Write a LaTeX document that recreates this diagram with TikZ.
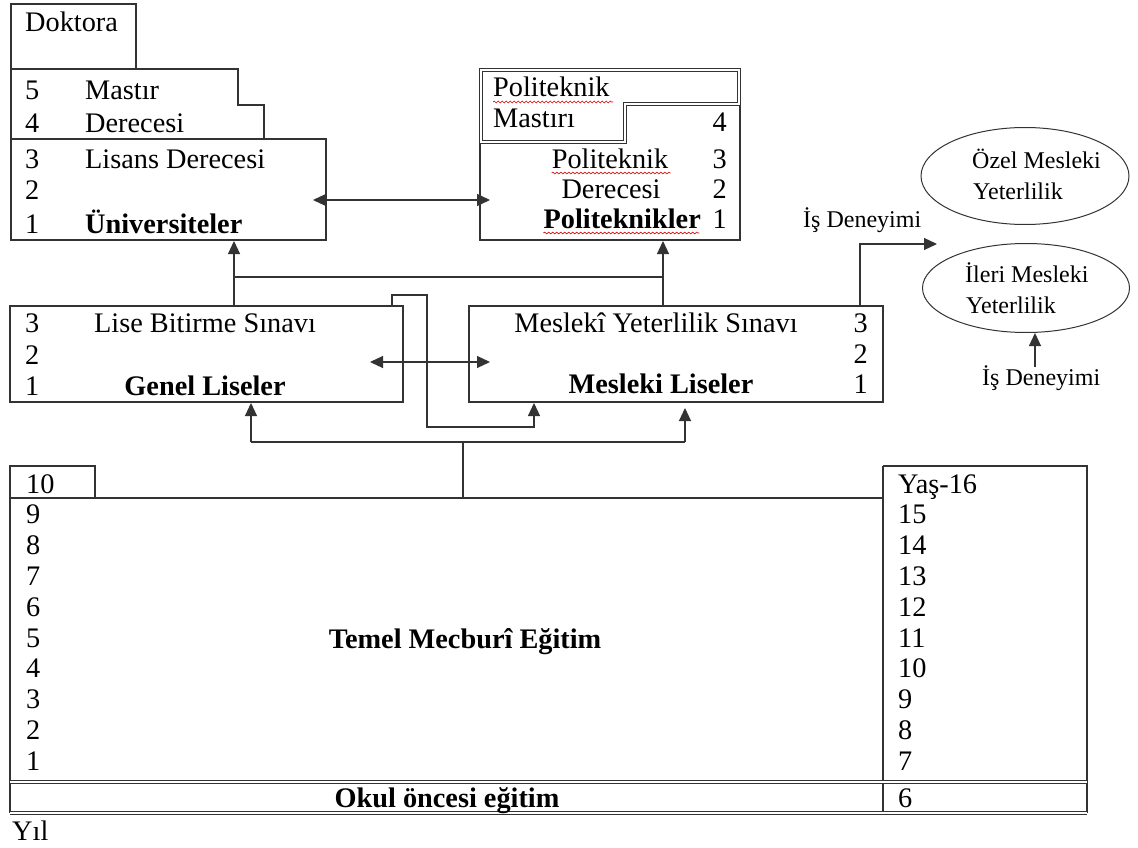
\documentclass[tikz,border=0pt]{standalone}
\usepackage{fontspec}
\setmainfont{Liberation Serif}
\usetikzlibrary{arrows.meta,shapes.geometric,decorations.pathmorphing}
\begin{document}
\begin{tikzpicture}[x=1pt,y=-1pt,
  line/.style={line width=1.1pt,draw=black!80},
  box/.style={line,rectangle,inner sep=0pt,outer sep=0pt},
  dline/.style={draw=black!80,double=white,line width=0.8pt,double distance=1.6pt},
  arr/.style={line,-{Triangle[length=13pt,width=12pt]}},
  dbl/.style={line,{Triangle[length=13pt,width=12pt]}-{Triangle[length=13pt,width=12pt]}},
  txt/.style={inner sep=0pt,font=\fontsize{28.3}{33}\selectfont},
  stxt/.style={inner sep=0pt,font=\fontsize{24}{28}\selectfont},
  squig/.style={draw=red!85!black,line width=0.6pt,decorate,decoration={snake,amplitude=0.9pt,segment length=4pt}},
  oval/.style={draw=black!80,line width=1pt,ellipse,inner sep=0pt}
]
\useasboundingbox (0,0) rectangle (1138,848);
\fill[white] (0,0) rectangle (1138,848);

% ---------- Universities ----------
\node[box,minimum width=125,minimum height=65,anchor=north west] (dok) at (11,4) {};
\draw[line] (11,69) -- (238,69) -- (238,105) -- (264,105) -- (264,139);
\draw[line] (11,69) -- (11,139);
\node[box,minimum width=315,minimum height=101,anchor=north west] (uni) at (11,139) {};
\node[txt,anchor=base west] (tdok) at (25,32) {Doktora};
\node[txt,anchor=base west] (n5) at (25,100) {5};
\node[txt,anchor=base west] (tmas) at (85,100) {Mastır};
\node[txt,anchor=base west] (n4) at (25,133) {4};
\node[txt,anchor=base west] (tder) at (85,133) {Derecesi};
\node[txt,anchor=base west] (n3) at (25,168) {3};
\node[txt,anchor=base west] (tlis) at (85,168) {Lisans Derecesi};
\node[txt,anchor=base west] (n2) at (25,199) {2};
\node[txt,anchor=base west] (n1) at (25,233) {1};
\node[txt,anchor=base west,font=\fontsize{28.3}{33}\selectfont\bfseries] (tuni) at (85,233) {Üniversiteler};

% ---------- Polytechnics ----------
\node[inner sep=0pt,outer sep=0pt,minimum width=260,minimum height=171,anchor=north west] (poli) at (480,69) {};
\draw[line] (poli.east |- 0,104) -- (poli.south east) -- (poli.south west) -- (poli.west |- 0,142);
\draw[dline] (481,70) -- (739,70) -- (739,104) -- (625,104) -- (625,142) -- (481,142) -- cycle;
\node[txt,anchor=base west] (tp1) at (493,97) {Politeknik};
\node[txt,anchor=base west] (tp2) at (493,128) {Mastırı};
\node[txt,anchor=base east] (pn4) at (727,132) {4};
\node[txt,anchor=base] (tp3) at (610,168) {Politeknik};
\node[txt,anchor=base east] (pn3) at (727,168) {3};
\node[txt,anchor=base] (tp4) at (611,198) {Derecesi};
\node[txt,anchor=base east] (pn2) at (727,198) {2};
\node[txt,anchor=base east,font=\fontsize{28.3}{33}\selectfont\bfseries] (tp5) at (701,228) {Politeknikler};
\node[txt,anchor=base east] (pn1) at (727,228) {1};
\draw[squig] (tp1.base west) ++(0,5) -- ++(120,0);
\draw[squig] (tp3.base west) ++(0,5) -- ++(119,0);
\draw[squig] (tp5.base west) ++(0,5) -- ++(156,0);

% ---------- High schools ----------
\node[box,minimum width=393,minimum height=96,anchor=north west] (lise) at (10,306) {};
\node[txt,anchor=base west] (ln3) at (25,332) {3};
\node[txt,anchor=base] (tlb) at (205,332) {Lise Bitirme Sınavı};
\node[txt,anchor=base west] (ln2) at (25,364) {2};
\node[txt,anchor=base west] (ln1) at (25,395) {1};
\node[txt,anchor=base,font=\fontsize{28.3}{33}\selectfont\bfseries] (tgl) at (205,395) {Genel Liseler};

\node[box,minimum width=414,minimum height=96,anchor=north west] (mesl) at (469,306) {};
\node[txt,anchor=base] (tmy) at (656,332) {Meslekî Yeterlilik Sınavı};
\node[txt,anchor=base east] (mn3) at (868,332) {3};
\node[txt,anchor=base east] (mn2) at (868,363) {2};
\node[txt,anchor=base east] (mn1) at (868,393) {1};
\node[txt,anchor=base,font=\fontsize{28.3}{33}\selectfont\bfseries] (tml) at (661,393) {Mesleki Liseler};

% ---------- Qualifications ----------
\node[oval,minimum width=208,minimum height=97] (ozel) at (1025,176) {};
\node[stxt,anchor=base west] (toz1) at (972,168) {Özel Mesleki};
\node[stxt,anchor=base west] (toz2) at (973,200) {Yeterlilik};
\node[oval,minimum width=207,minimum height=89] (ileri) at (1026,288) {};
\node[stxt,anchor=base west] (til1) at (965,282) {İleri Mesleki};
\node[stxt,anchor=base west] (til2) at (966,313) {Yeterlilik};
\node[stxt,anchor=base west] (tis1) at (803,227) {İş Deneyimi};
\node[stxt,anchor=base west] (tis2) at (982,385) {İş Deneyimi};

% ---------- Basic education ----------
\draw[line] (10,498) -- (10,466) -- (95,466) -- (95,498);
\draw[line] (10,498) -- (883,498);
\draw[line] (10,466) -- (10,813);
\draw[line] (883,466) -- (1087,466) -- (1087,813);
\draw[line] (883,466) -- (883,813);
\draw[dline] (10,782) -- (1087,782);
\draw[dline] (10,813) -- (1087,813);
\node[txt,anchor=base west] (b10) at (26,493) {10};
\node[txt,anchor=base west] (r16) at (898,493) {Yaş-16};
\foreach \k in {1,...,9}{
  \pgfmathsetmacro{\yy}{493+30.8*(10-\k)}
  \pgfmathtruncatemacro{\rr}{\k+6}
  \node[txt,anchor=base west] (b\k) at (26,\yy) {\k};
  \node[txt,anchor=base west] (r\rr) at (898,\yy) {\rr};
}
\node[txt,anchor=base,font=\fontsize{28.3}{33}\selectfont\bfseries] (ttem) at (465,648) {Temel Mecburî Eğitim};
\node[txt,anchor=base,font=\fontsize{28.3}{33}\selectfont\bfseries] (tok) at (447,807) {Okul öncesi eğitim};
\node[txt,anchor=base west] (r6) at (898,807) {6};
\node[txt,anchor=base west] (tyil) at (12,840) {Yıl};

% ---------- Connectors ----------
\coordinate (u1) at (313,200); \coordinate (p1) at (490,200);
\draw[dbl] (u1) -- (p1);
\coordinate (l1) at (370,362); \coordinate (m1) at (490,362);
\draw[dbl] (l1) -- (m1);

\coordinate (lt) at (lise.north -| 234,0);
\coordinate (mt) at (mesl.north -| 663,0);
\draw[arr] (lt) -- (234,241);
\draw[line] (234,277) -- (663,277);
\draw[arr] (mt) -- (663,241);

\coordinate (lr) at (lise.north -| 392,0);
\draw[arr] (lr) -- (392,295) -- (427,295) -- (427,427) -- (534,427) -- (534,403);

\coordinate (tt) at (463,498);
\draw[line] (tt) -- (463,442);
\draw[line] (251,442) -- (685,442);
\draw[arr] (251,442) -- (251,403);
\draw[arr] (685,442) -- (685,408);

\coordinate (ms) at (mesl.north -| 860,0);
\draw[arr] (ms) -- (860,244) -- (937,244);
\coordinate (is2) at (1035,367);
\draw[arr] (is2) -- (ileri.south -| 1035,0);
\end{tikzpicture}
\end{document}
